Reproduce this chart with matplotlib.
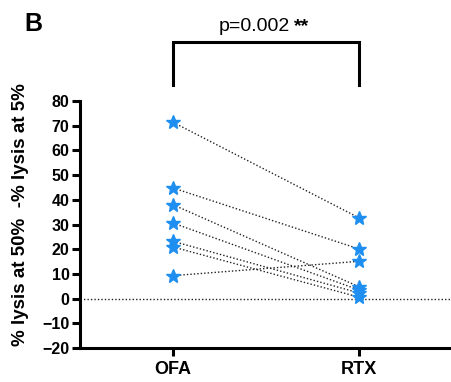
import matplotlib
matplotlib.use("Agg")
import matplotlib.pyplot as plt

categories = ["OFA", "RTX"]
ofa = [71.4, 44.8, 38.0, 30.6, 23.2, 20.9, 9.3]
rtx = [32.7, 20.1, 4.8, 3.5, 2.3, 0.6, 15.1]
yticks = [-20, -10, 0, 10, 20, 30, 40, 50, 60, 70, 80]
ylabel = "% lysis at 50%  -% lysis at 5%"
ptext = "p=0.002"
stars = "**"
panel = "B"

plt.rcParams['font.family'] = ['Liberation Sans', 'DejaVu Sans']

fig = plt.figure(figsize=(4.52, 3.82), dpi=100)
ax = fig.add_axes([0.177, 0.089, 0.823, 0.6466])

blue = "#1E8FF0"
for a, b in zip(ofa, rtx):
    ax.plot([0, 1], [a, b], linestyle=(0, (1, 1.5)), color="#222222", lw=1.0, zorder=2)
ax.plot([0] * len(ofa), ofa, linestyle="none", marker="*", ms=10, color=blue, zorder=3)
ax.plot([1] * len(rtx), rtx, linestyle="none", marker="*", ms=10, color=blue, zorder=3)

ax.axhline(0, linestyle=(0, (1, 1.5)), color="#222222", lw=1.0, zorder=1)

ax.set_xlim(-0.5, 1.5)
ax.set_ylim(-20, 80)
ax.set_yticks(yticks)
ax.set_xticks([0, 1])
ax.set_xticklabels(categories)
for s in ["top", "right"]:
    ax.spines[s].set_visible(False)
for s in ["left", "bottom"]:
    ax.spines[s].set_linewidth(2.2)
ax.tick_params(axis='y', width=2.2, length=6, labelsize=11.5, pad=1.5)
ax.tick_params(axis='x', width=2.2, length=6, labelsize=13, pad=3)
for lab in ax.get_xticklabels() + ax.get_yticklabels():
    lab.set_fontweight("bold")
fig.text(21 / 452, 1 - 215 / 382, ylabel, rotation=90, ha="center", va="center",
         fontsize=13.5, fontweight="bold")

# bracket
ax.plot([0, 0, 1, 1], [86.5, 104, 104, 86.5], color="black", lw=2.2,
        clip_on=False, solid_joinstyle="miter")
ax.text(0.627, 108.3, ptext, ha="right", va="baseline", fontsize=14)
ax.text(0.652, 108.3, stars, ha="left", va="baseline", fontsize=14, fontweight="bold")

fig.text(0.055, 0.937, panel, fontsize=18, fontweight="bold", ha="left", va="center")

fig.savefig("out.png", dpi=100)
